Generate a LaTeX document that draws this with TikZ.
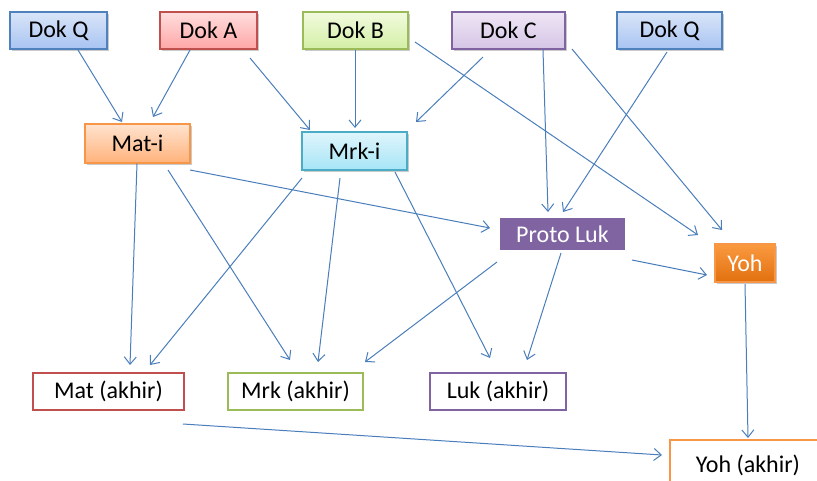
\documentclass[tikz,border=0pt]{standalone}
\usepackage{fontspec}
\setmainfont{Carlito}
\usetikzlibrary{arrows.meta,shadows}
\definecolor{arrowblue}{HTML}{4A7EBB}
\definecolor{bBlue}{HTML}{4F81BD}\definecolor{tBlue}{HTML}{DAE5F8}\definecolor{lBlue}{HTML}{A8C4F2}
\definecolor{bRed}{HTML}{C0504D}\definecolor{tRed}{HTML}{FFDEDE}\definecolor{lRed}{HTML}{FFA6A6}
\definecolor{bGreen}{HTML}{9BBB59}\definecolor{tGreen}{HTML}{F2FADF}\definecolor{lGreen}{HTML}{D3EFA5}
\definecolor{bPurple}{HTML}{8064A2}\definecolor{tPurple}{HTML}{EFE6F5}\definecolor{lPurple}{HTML}{D5C5E6}
\definecolor{bOrange}{HTML}{F79646}\definecolor{tOrange}{HTML}{FFE3CF}\definecolor{lOrange}{HTML}{FFB27B}
\definecolor{bCyan}{HTML}{4BACC6}\definecolor{tCyan}{HTML}{DFF5FB}\definecolor{lCyan}{HTML}{A6E5F7}
\definecolor{yTop}{HTML}{FA9A40}\definecolor{yBot}{HTML}{E2700F}
\begin{document}
\begin{tikzpicture}[x=0.75pt,y=-0.75pt,
  box/.style={rectangle, inner sep=0pt, outer sep=0pt, line width=0.9pt, font=\fontsize{18}{21}\selectfont,
    drop shadow={shadow xshift=1.2pt, shadow yshift=-1.2pt, opacity=0.35, fill=black!60}},
  gbox/.style n args={3}{box, draw=#1, top color=#2, bottom color=#3},
  fbox/.style={rectangle, inner sep=0pt, outer sep=0pt, line width=1.5pt, fill=white, font=\fontsize{18}{21}\selectfont},
  sz/.style 2 args={minimum width=#1*0.75pt, minimum height=#2*0.75pt},
  arr/.style={draw=arrowblue, line width=0.75pt, -{Straight Barb[length=5.5pt,width=9pt]}}
]
\useasboundingbox (0,0) rectangle (817,480);

% top row
\node[gbox={bBlue}{tBlue}{lBlue}, sz={97}{37}] (dQa) at (58.5,30.5) {Dok Q};
\node[gbox={bRed}{tRed}{lRed}, sz={97}{37}] (dA) at (208.5,30.5) {Dok A};
\node[gbox={bGreen}{tGreen}{lGreen}, sz={105}{37}] (dB) at (355.5,30.5) {Dok B};
\node[gbox={bPurple}{tPurple}{lPurple}, sz={113}{37}] (dC) at (508.5,30.5) {Dok C};
\node[gbox={bBlue}{tBlue}{lBlue}, sz={105}{37}] (dQb) at (669.5,30.5) {Dok Q};

% middle
\node[gbox={bOrange}{tOrange}{lOrange}, sz={105}{39}] (matI) at (137.5,143.5) {Mat-i};
\node[gbox={bCyan}{tCyan}{lCyan}, sz={105}{38}] (mrkI) at (354.5,151) {Mrk-i};
\node[box, draw=white, line width=2.4pt, fill=bPurple, text=white, sz={129}{36}] (proto) at (562.5,234) {Proto Luk};
\node[gbox={bOrange}{yTop}{yBot}, text=white, sz={60}{38}] (yoh) at (745,263) {Yoh};

% bottom
\node[fbox, draw=bRed, sz={151}{37}] (matA) at (108.5,391.5) {Mat (akhir)};
\node[fbox, draw=bGreen, sz={135}{37}] (mrkA) at (295.5,391.5) {Mrk (akhir)};
\node[fbox, draw=bPurple, sz={136}{37}] (lukA) at (498,391.5) {Luk (akhir)};
\node[fbox, draw=bOrange, sz={156}{50}] (yohA) at (748,465) {Yoh (akhir)};

% connectors
\draw[arr] ([shift={(19.5,19.5)}]dQa.center) -- ([shift={(-15.5,-21.5)}]matI.center);
\draw[arr] ([shift={(-18.5,19.5)}]dA.center) -- ([shift={(15.5,-26.5)}]matI.center);
\draw[arr] ([shift={(41.5,27.5)}]dA.center) -- ([shift={(-44.5,-21)}]mrkI.center);
\draw[arr] ([shift={(-0.5,19.5)}]dB.center) -- ([shift={(0.5,-23)}]mrkI.center);
\draw[arr] ([shift={(-25.5,26.5)}]dC.center) -- ([shift={(61.5,-29)}]mrkI.center);
\draw[arr] ([shift={(34.5,19.5)}]dC.center) -- ([shift={(-14.5,-22)}]proto.center);
\draw[arr] ([shift={(63.5,18.5)}]dC.center) -- ([shift={(-23,-33)}]yoh.center);
\draw[arr] ([shift={(59.5,11.5)}]dB.center) -- ([shift={(-47,-28)}]yoh.center);
\draw[arr] ([shift={(-2.5,21.5)}]dQb.center) -- ([shift={(0.5,-22)}]proto.center);
\draw[arr] ([shift={(52.5,26.5)}]matI.center) -- ([shift={(-72.5,-6)}]proto.center);
\draw[arr] ([shift={(-0.5,20)}]matI.center) -- ([shift={(21.5,-26.5)}]matA.center);
\draw[arr] ([shift={(30.5,26.5)}]matI.center) -- ([shift={(-5.5,-31.5)}]mrkA.center);
\draw[arr] ([shift={(-52.5,27)}]mrkI.center) -- ([shift={(41.5,-26.5)}]matA.center);
\draw[arr] ([shift={(-14.5,27)}]mrkI.center) -- ([shift={(22.5,-29.5)}]mrkA.center);
\draw[arr] ([shift={(40.5,21)}]mrkI.center) -- ([shift={(-8,-33.5)}]lukA.center);
\draw[arr] ([shift={(-65.5,28)}]proto.center) -- ([shift={(69.5,-29.5)}]mrkA.center);
\draw[arr] ([shift={(-1.5,19)}]proto.center) -- ([shift={(29,-31.5)}]lukA.center);
\draw[arr] ([shift={(69.5,26)}]proto.center) -- ([shift={(-38,12)}]yoh.center);
\draw[arr] ([shift={(0,21)}]yoh.center) -- ([shift={(0,-27)}]yohA.center);
\draw[arr] ([shift={(74.5,32.5)}]matA.center) -- ([shift={(-86,-10)}]yohA.center);
\end{tikzpicture}
\end{document}
